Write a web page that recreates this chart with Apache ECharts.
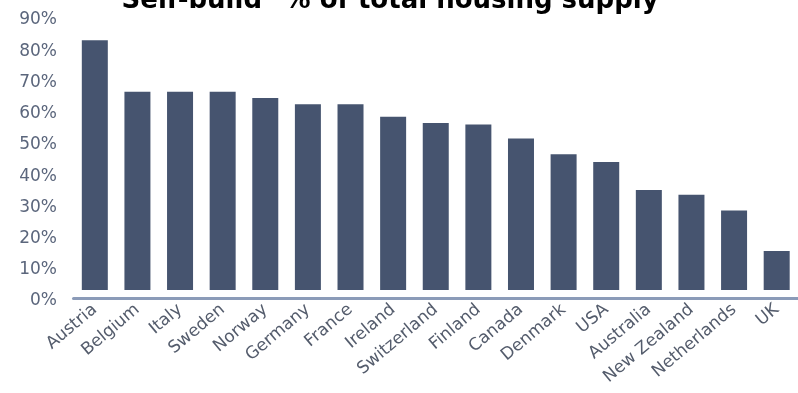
<!DOCTYPE html>
<html>
<head>
<meta charset="utf-8">
<script src="https://cdn.jsdelivr.net/npm/echarts@6/dist/echarts.min.js"></script>
<style>
  html, body { margin: 0; padding: 0; background: #ffffff; }
  #chart { width: 798px; height: 393px; }
</style>
</head>
<body>
<div id="chart"></div>
<script>
// Share of new housing delivered as self-build, by country (%)
const countries = ['Austria', 'Belgium', 'Italy', 'Sweden', 'Norway', 'Germany', 'France', 'Ireland',
  'Switzerland', 'Finland', 'Canada', 'Denmark', 'USA', 'Australia', 'New Zealand', 'Netherlands', 'UK'];
const selfBuildShare = [80, 63.5, 63.5, 63.5, 61.5, 59.5, 59.5, 55.5, 53.5, 53, 48.5, 43.5, 41, 32, 30.5, 25.5, 12.5];
const percentTicks = [0, 10, 20, 30, 40, 50, 60, 70, 80, 90];

const chart = echarts.init(document.getElementById('chart'), null, { renderer: 'canvas' });

chart.setOption({
  animation: false,
  backgroundColor: '#ffffff',
  title: {
    text: '"Self-build" % of total housing supply',
    left: 108,
    top: -12,
    padding: 0,
    textStyle: {
      fontFamily: 'DejaVu Sans',
      fontWeight: 'bold',
      fontSize: 26,
      color: '#000000'
    }
  },
  grid: {
    left: 73.5,
    top: 9,
    width: 730,
    bottom: 103,
    containLabel: false
  },
  xAxis: {
    type: 'category',
    data: countries,
    offset: 8.5,
    axisLine: {
      show: true,
      onZero: false,
      lineStyle: { color: '#8b9bb8', width: 3 }
    },
    axisTick: { show: false },
    axisLabel: {
      interval: 0,
      rotate: 40,
      margin: 9,
      fontFamily: 'DejaVu Sans',
      fontSize: 17,
      color: '#545c6c'
    },
    splitLine: { show: false }
  },
  yAxis: {
    type: 'value',
    min: 0,
    max: 90,
    interval: 10,
    axisLine: { show: false },
    axisTick: { show: false },
    splitLine: { show: false },
    axisLabel: {
      customValues: percentTicks,
      formatter: v => v + '%',
      margin: 16.5,
      verticalAlign: 'top',
      lineHeight: 22,
      fontFamily: 'DejaVu Sans',
      fontSize: 17,
      color: '#5b667c'
    }
  },
  series: [{
    type: 'bar',
    data: selfBuildShare,
    barWidth: 26,
    itemStyle: { color: '#46546f' }
  }]
});
</script>
</body>
</html>
